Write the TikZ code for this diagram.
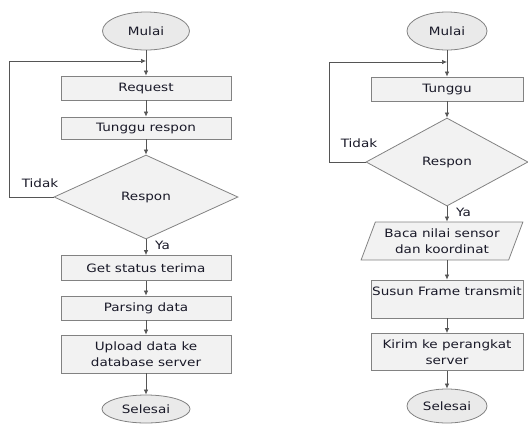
\documentclass[tikz,border=0pt]{standalone}
\usepackage{fontspec}
\setmainfont[FakeStretch=1.18]{DejaVu Sans}
\usepackage{tikz}
\usetikzlibrary{arrows.meta,shapes.geometric}
\usepackage{xcolor}

\definecolor{garis}{RGB}{130,130,130}
\definecolor{panah}{RGB}{85,85,85}
\definecolor{isi}{RGB}{242,242,242}
\definecolor{isiterm}{RGB}{234,234,234}
\definecolor{huruf}{RGB}{25,25,40}
\newcommand{\teks}{\fontsize{11.5}{16}\selectfont}

\begin{document}
\begin{tikzpicture}[x=1pt, y=-1pt,
  box/.style={draw=garis, line width=0.8pt, fill=isi, minimum width=170pt, minimum height=24pt, inner sep=1pt, align=center, font=\teks, text=huruf},
  term/.style={ellipse, draw=garis, line width=0.8pt, fill=isiterm, minimum width=87pt, minimum height=38pt, inner sep=0pt, font=\teks, text=huruf},
  cond/.style={diamond, draw=garis, line width=0.8pt, fill=isi, inner sep=0pt, font=\teks, text=huruf},
  io/.style={trapezium, trapezium left angle=65, trapezium right angle=115, trapezium stretches=true, draw=garis, line width=0.8pt, fill=isi, inner sep=1pt, align=center, font=\teks, text=huruf},
  lbl/.style={font=\teks, text=huruf, inner sep=1pt},
  arr/.style={draw=panah, line width=0.7pt, -{Latex[length=5pt,width=4.5pt]}}]

\useasboundingbox (0,0) rectangle (528,424);

% Kolom kiri: server
\node[term] (mulai1) at (146,31) {Mulai};
\node[box] (req) at (146,88) {Request};
\node[box, minimum height=22pt] (tunggu1) at (146,128) {Tunggu respon};
\node[cond, minimum width=184pt, minimum height=84pt] (respon1) at (146,197) {Respon};
\node[box, minimum height=25pt] (status) at (146,268) {Get status terima};
\node[box] (parsing) at (146,308) {Parsing data};
\node[box, minimum height=38pt] (upload) at (146,354) {Upload data ke\\database server};
\node[term, minimum width=88pt, minimum height=28pt] (selesai1) at (146,409) {Selesai};

\node[lbl] (tidak1) at (40,183) {Tidak};
\node[lbl, anchor=west] (ya1) at (154,245) {Ya};

\coordinate (j1) at (146,61);
\coordinate (kiri1) at (9,197);

\draw[arr] (mulai1) -- (req);
\draw[arr] (req) -- (tunggu1);
\draw[arr] (tunggu1) -- (respon1);
\draw[arr] (respon1) -- (status);
\draw[arr] (status) -- (parsing);
\draw[arr] (parsing) -- (upload);
\draw[arr] (upload) -- (selesai1);

% Tidak -> kembali ke Request
\draw[arr] (respon1.west) -- (kiri1) |- (j1);

% Kolom kanan: node sensor
\node[term, minimum width=80pt] (mulai2) at (447,31) {Mulai};
\node[box, minimum width=152pt] (tunggu2) at (447,89) {Tunggu};
\node[cond, minimum width=162pt, minimum height=88pt] (respon2) at (447,162) {Respon};
\node[io, minimum width=162pt, minimum height=38pt] (baca) at (442,241) {Baca nilai sensor\\dan koordinat};
\node[box, minimum width=152pt, minimum height=38pt] (susun) at (447,299) {Susun Frame transmit\\\mbox{}};
\node[box, minimum width=152pt, minimum height=37pt] (kirim) at (447,352) {Kirim ke perangkat\\server};
\node[term, minimum width=80pt, minimum height=34pt] (selesai2) at (447,406) {Selesai};

\node[lbl] (tidak2) at (359,143) {Tidak};
\node[lbl, anchor=west] (ya2) at (455,212) {Ya};

\coordinate (j2) at (447,62);
\coordinate (kiri2) at (329,162);

\draw[arr] (mulai2) -- (tunggu2);
\draw[arr] (tunggu2) -- (respon2);
\draw[arr] (respon2.south) -- (respon2.south |- baca.north);
\draw[arr] (respon2.south |- baca.south) -- (susun);
\draw[arr] (susun) -- (kirim);
\draw[arr] (kirim) -- (selesai2);

% Tidak -> kembali ke Tunggu
\draw[arr] (respon2.west) -- (kiri2) |- (j2);

\end{tikzpicture}
\end{document}
